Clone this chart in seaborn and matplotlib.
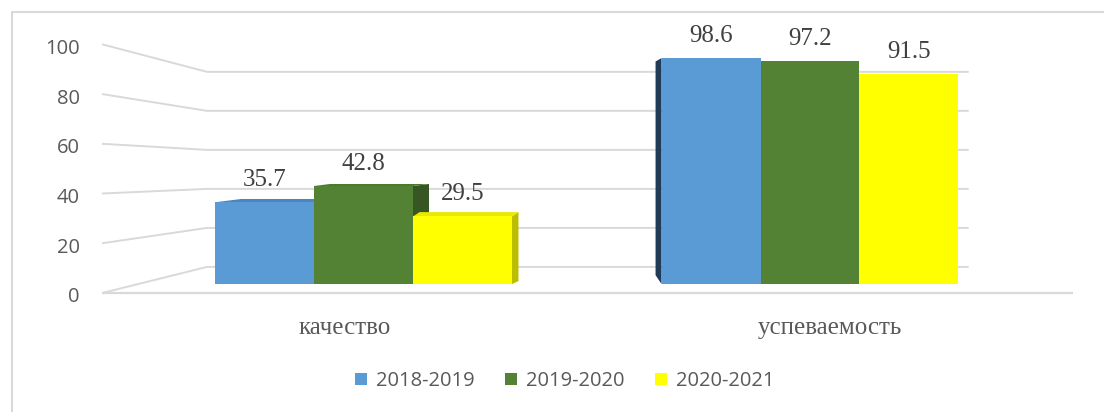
import numpy as np
import pandas as pd
import matplotlib.pyplot as plt
from matplotlib.patches import Polygon
from matplotlib.lines import Line2D
import seaborn as sns

# --- data ---
categories = ['качество', 'успеваемость']
years = ['2018-2019', '2019-2020', '2020-2021']
vals_2018_2019 = [35.7, 98.6]
vals_2019_2020 = [42.8, 97.2]
vals_2020_2021 = [29.5, 91.5]
y_ticks = [0, 20, 40, 60, 80, 100]
colors = ['#5b9bd5', '#548235', '#ffff00']

df = pd.DataFrame({
    'category': categories * 3,
    'year': np.repeat(years, len(categories)),
    'value': vals_2018_2019 + vals_2019_2020 + vals_2020_2021,
})

sns.set_style('white')
plt.rcParams['font.family'] = ['Open Sans', 'DejaVu Sans']

W, H = 1104, 412
GRID = '#d9d9d9'
TXT = '#595959'
SERIF = ['Liberation Serif', 'DejaVu Serif']

fig = plt.figure(figsize=(W / 100, H / 100), dpi=100)
ax = fig.add_axes([102 / W, 1 - 295 / H, (1073 - 102) / W, (295 - 40) / H])

sns.barplot(data=df, x='category', y='value', hue='year', order=categories,
            hue_order=years, palette=colors, width=0.665, saturation=1,
            linewidth=0, errorbar=None, ax=ax, zorder=2)
ax.set_xlim(-0.5857, 1.589)
ax.set_ylim(-3.9, 106.5)


def to_data(xp, yp):
    # image pixel -> data coords
    return ax.transData.inverted().transform((xp, H - yp))


def to_img(x, y):
    d = ax.transData.transform((x, y))
    return d[0], H - d[1]


# --- fake 3d walls: side wall + back wall gridlines ---
for v in y_ticks:
    front = 295 - 2.507 * v
    back = 268.7 - 1.966 * v
    pts = [to_data(102, front), to_data(207, back), to_data(968, back)]
    ax.add_line(Line2D([p[0] for p in pts], [p[1] for p in pts],
                       color=GRID, lw=1.4, zorder=1))
floor = [to_data(102, 295), to_data(1073, 295)]
ax.add_line(Line2D([p[0] for p in floor], [p[1] for p in floor],
                   color=GRID, lw=1.6, zorder=1))

# --- bar side / top faces ---
# (hue, category, face, dx, dy_top, dy_bottom, color)  offsets in pixels
faces = [
    (1, 0, 'right', 16, -2, -6, '#375623'),
    (2, 0, 'right', 6.5, -4.4, -3, '#bdbd00'),
    (0, 1, 'left', -6, 3.4, -9, '#1f3b57'),
    (0, 0, 'top', 26, -3.3, 0, '#4a86c0'),
    (1, 0, 'top', 16, -2, 0, '#4a7a2e'),
    (2, 0, 'top', 6.5, -4.4, 0, '#e8e800'),
]
for h, c, face, dx, dyt, dyb, col in faces:
    bar = ax.containers[h][c]
    x0, x1 = bar.get_x(), bar.get_x() + bar.get_width()
    lx, ty = to_img(x0, bar.get_height())
    rx, by = to_img(x1, 0)
    if face == 'right':
        pts = [(rx, by), (rx, ty), (rx + dx, ty + dyt), (rx + dx, by + dyb)]
        z = 1.5
    elif face == 'left':
        pts = [(lx, by), (lx, ty), (lx + dx, ty + dyt), (lx + dx, by + dyb)]
        z = 1.5
    else:
        pts = [(lx, ty), (rx, ty), (rx + dx, ty + dyt), (lx + dx, ty + dyt)]
        z = 1.6
    ax.add_patch(Polygon([to_data(*p) for p in pts], closed=True,
                         facecolor=col, edgecolor='none', zorder=z))

# --- value labels ---
for cont in ax.containers:
    ax.bar_label(cont, fmt='%.1f', padding=8, fontsize=18, family=SERIF,
                 color='#404040')

# --- axes styling ---
for s in ax.spines.values():
    s.set_visible(False)
ax.set_xticks([])
ax.set_xlabel('')
ax.set_ylabel('')
ax.set_yticks([to_data(102, 297 - 2.507 * v)[1] for v in y_ticks])
ax.set_yticklabels([str(v) for v in y_ticks])
ax.tick_params(axis='y', length=0, pad=16, labelsize=14.5, labelcolor=TXT)

for i, cat in enumerate(categories):
    ax.text(0.25 + 0.5 * i, -0.128, cat, transform=ax.transAxes,
            ha='center', va='center', fontsize=18, family=SERIF, color=TXT)

handles, labels = ax.get_legend_handles_labels()
ax.get_legend().remove()
fig.legend(handles, labels, loc='center', bbox_to_anchor=(565 / W, 1 - 381 / H),
           ncol=3, frameon=False, fontsize=14.5, handlelength=0.6,
           handleheight=0.6, handletextpad=0.45, columnspacing=1.5,
           labelcolor=TXT)

# chart frame
fig.add_artist(Line2D([12 / W, 12 / W], [0, 1 - 12 / H], color=GRID, lw=1.5))
fig.add_artist(Line2D([12 / W, 1], [1 - 12 / H, 1 - 12 / H], color=GRID, lw=1.5))

fig.savefig('out.png', dpi=100)
